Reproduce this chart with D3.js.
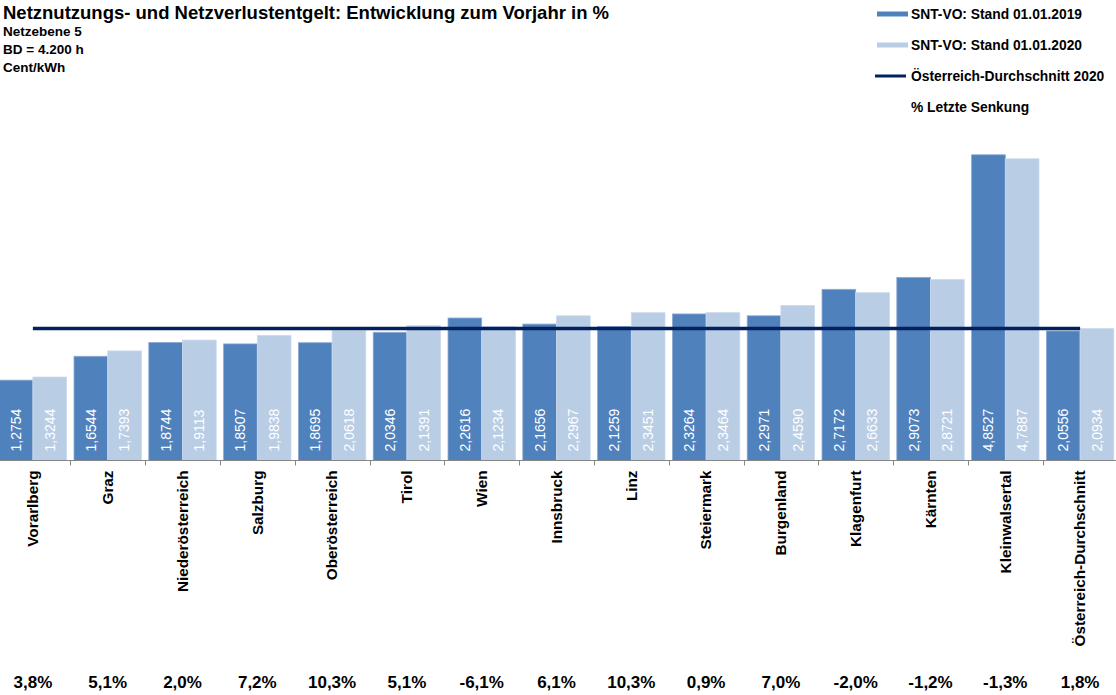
<!DOCTYPE html>
<html><head><meta charset="utf-8">
<script src="https://cdn.jsdelivr.net/npm/d3@7"></script>
<style>body{margin:0;background:#fff}svg{display:block;font-family:"Liberation Sans",Arial,sans-serif}</style>
</head><body><svg id="c" width="1116" height="695"></svg>
<script>
const categories = ["Vorarlberg","Graz","Niederösterreich","Salzburg","Oberösterreich","Tirol","Wien","Innsbruck","Linz","Steiermark","Burgenland","Klagenfurt","Kärnten","Kleinwalsertal","Österreich-Durchschnitt"];
const values2019 = [1.2754,1.6544,1.8744,1.8507,1.8695,2.0346,2.2616,2.1656,2.1259,2.3264,2.2971,2.7172,2.9073,4.8527,2.0556];
const values2020 = [1.3244,1.7393,1.9113,1.9838,2.0618,2.1391,2.1234,2.2967,2.3451,2.3464,2.4590,2.6633,2.8721,4.7887,2.0934];
const lastChange = ["3,8%","5,1%","2,0%","7,2%","10,3%","5,1%","-6,1%","6,1%","10,3%","0,9%","7,0%","-2,0%","-1,2%","-1,3%","1,8%"];
const austriaAvg2020 = 2.0934;
const seriesNames = ["SNT-VO: Stand 01.01.2019","SNT-VO: Stand 01.01.2020"];
const avgName = "Österreich-Durchschnitt 2020";
const noteName = "% Letzte Senkung";
const titleText = "Netznutzungs- und Netzverlustentgelt: Entwicklung zum Vorjahr in %";
const subtitleLines = ["Netzebene 5","BD = 4.200 h","Cent/kWh"];
const colors = ["#4F81BD","#B9CDE5"];
const lineColor = "#002060";

const svg = d3.select("#c");
const W = 1116, H = 695;
const baseY = 460.5;

const x = d3.scaleBand().domain(categories).range([-4.5, 1117.5]).paddingInner(0).paddingOuter(0);
const xs = d3.scaleBand().domain([0,1]).range([0, x.bandwidth()]).paddingInner(0).paddingOuter(0.11);
const y = d3.scaleLinear().domain([0,5]).range([baseY, baseY - 5*63]);
const loc = d3.formatLocale({decimal:",", thousands:".", grouping:[3], currency:["","€"]});
const fmt = loc.format(".4f");

const rows = categories.map((c,i)=>({c, v:[values2019[i], values2020[i]], p:lastChange[i]}));

// bars
const g = svg.append("g");
rows.forEach(r=>{
  r.v.forEach((v,k)=>{
    const bx = x(r.c)+xs(k);
    g.append("rect").attr("x",bx).attr("y",y(v)).attr("width",xs.bandwidth()).attr("height",baseY-y(v))
      .attr("fill",colors[k]).attr("stroke", k===0 ? "#8eaad3" : "#cad9ec").attr("stroke-width",0.8);
    g.append("text").attr("transform",`translate(${bx+xs.bandwidth()/2},${baseY-9}) rotate(-90)`)
      .attr("dy","0.35em").attr("text-anchor","start").attr("fill","#fff")
      .style("font-size","14px").text(fmt(v));
  });
});

// axis
svg.append("line").attr("x1",0).attr("x2",W).attr("y1",baseY).attr("y2",baseY).attr("stroke","#868686").attr("stroke-width",1);
categories.forEach((c,i)=>{
  if(i===0) return;
  const tx = Math.round(x(c))+0.5;
  svg.append("line").attr("x1",tx).attr("x2",tx).attr("y1",baseY).attr("y2",baseY+5).attr("stroke","#868686");
});
categories.forEach(c=>{
  svg.append("text").attr("transform",`translate(${x(c)+x.bandwidth()/2},${baseY+10}) rotate(-90)`)
    .attr("dy","0.35em").attr("text-anchor","end").style("font-size","15.3px").style("font-weight","bold")
    .attr("fill","#000").text(c);
});

// average line
svg.append("line")
  .attr("x1", x(categories[0])+x.bandwidth()/2).attr("x2", x(categories[categories.length-1])+x.bandwidth()/2)
  .attr("y1", y(austriaAvg2020)).attr("y2", y(austriaAvg2020))
  .attr("stroke", lineColor).attr("stroke-width",3.5);

// percentages
rows.forEach(r=>{
  svg.append("text").attr("x", x(r.c)+x.bandwidth()/2).attr("y", 688).attr("text-anchor","middle")
    .style("font-size","17px").style("font-weight","bold").attr("fill","#000").text(r.p);
});

// title
svg.append("text").attr("x",3).attr("y",19).style("font-size","18.5px").style("font-weight","bold").text(titleText);
subtitleLines.forEach((s,i)=>{
  svg.append("text").attr("x",3).attr("y",36+i*18).style("font-size","13.5px").style("font-weight","bold").text(s);
});

// legend
const lg = svg.append("g");
const legendY = [14,45,76,107];
seriesNames.forEach((s,k)=>{
  lg.append("rect").attr("x",877).attr("y",legendY[k]-2.5).attr("width",31).attr("height",5).attr("fill",colors[k]);
  lg.append("text").attr("x",911).attr("y",legendY[k]).attr("dy","0.35em").style("font-size","13.8px").style("font-weight","bold").text(s);
});
lg.append("line").attr("x1",875).attr("x2",906).attr("y1",legendY[2]).attr("y2",legendY[2]).attr("stroke",lineColor).attr("stroke-width",3);
lg.append("text").attr("x",911).attr("y",legendY[2]).attr("dy","0.35em").style("font-size","13.8px").style("font-weight","bold").text(avgName);
lg.append("text").attr("x",911).attr("y",legendY[3]).attr("dy","0.35em").style("font-size","13.8px").style("font-weight","bold").text(noteName);
</script></body></html>
